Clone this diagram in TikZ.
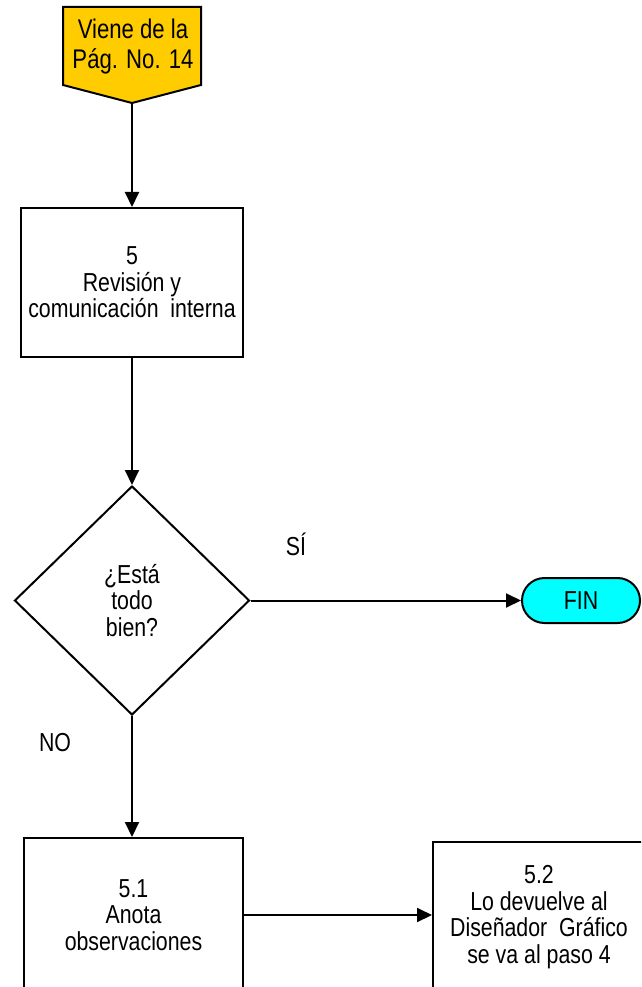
\documentclass[tikz,border=0pt]{standalone}
\usepackage{fontspec}
\setmainfont{Liberation Sans}[FakeStretch=0.82]
\usetikzlibrary{arrows.meta,shapes.geometric,shapes.misc}
\definecolor{refgold}{HTML}{FFCC00}
\definecolor{fincyan}{HTML}{00FFFF}
\begin{document}
\begin{tikzpicture}[x=1pt,y=-1pt,
  every node/.style={font=\fontsize{26}{26.5}\selectfont, align=center},
  flowline/.style={line width=2pt, draw=black},
  flowarrow/.style={flowline, -{Triangle[length=15pt,width=14pt]}},
  procbox/.style={draw=black, line width=2pt, fill=white, inner sep=0pt},
  decision/.style={draw=black, line width=2pt, fill=white, diamond, inner sep=0pt,
                   minimum width=235pt, minimum height=229pt},
  terminal/.style={draw=black, line width=2pt, fill=fincyan, rounded rectangle,
                   minimum width=118pt, minimum height=45pt, inner sep=0pt},
  plain/.style={inner sep=0pt}]
\useasboundingbox (0,0) rectangle (641,987);
\clip (0,0) rectangle (641,987);

% off-page connector coming from page 14
\draw[flowline, fill=refgold] (63,7) -- (201,7) -- (201,85) -- (132,103) -- (63,85) -- cycle;
\node[plain, font=\fontsize{27}{30}\selectfont] (src) at (133,47) {Viene de la\\Pág. No. 14};
\coordinate (srcTip) at (132,103);

% step 5
\node[procbox, minimum width=222pt, minimum height=149pt] (b5) at (132,282.5)
  {5\\Revisión y\\comunicación\ \ interna};

% decision
\node[decision] (q) at (132,600.5) {¿Está\\todo\\bien?};

% end terminal
\node[terminal] (fin) at (581,600.5) {FIN};

% step 5.1
\node[procbox, minimum width=219pt, minimum height=154pt] (b51) at (133.5,915)
  {5.1\\Anota\\observaciones};

% step 5.2
\node[procbox, minimum width=230pt, minimum height=152pt] (b52) at (548,918)
  {};
\node[plain] (b52t) at (539,917) {5.2\\Lo devuelve al\\Diseñador\ \ Gráfico\\se va al paso 4};

% branch labels
\node[plain] (yes) at (296,544) {SÍ};
\node[plain] (no) at (55,743) {NO};

% connectors
\draw[flowarrow] (srcTip) -- (srcTip |- b5.north);
\draw[flowarrow] (b5.south) -- (q.north);
\draw[flowarrow] (q.east) -- (fin.west);
\draw[flowarrow] (q.south) -- (q.south |- b51.north);
\draw[flowarrow] (b51.east) -- (b51.east -| b52.west);
\end{tikzpicture}
\end{document}
